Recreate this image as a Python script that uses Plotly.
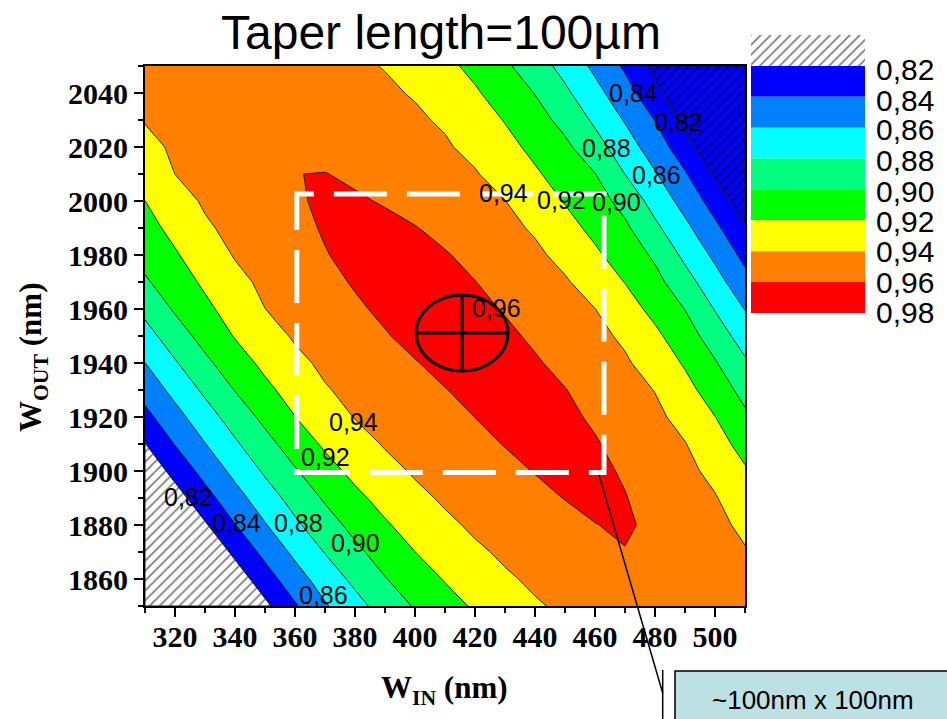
import numpy as np
import plotly.graph_objects as go

W, H = 947, 719

# ---------------- data ----------------
w_in = list(range(310, 511, 10))        # W_IN (nm)
w_out = list(range(1850, 2051, 10))     # W_OUT (nm)

# efficiency, one row per W_OUT (ascending), one column per W_IN
eff = [
    [0.727, 0.749, 0.772, 0.7936, 0.8156, 0.8378, 0.858, 0.8735, 0.8881, 0.9017, 0.9125, 0.9224, 0.9305, 0.9385, 0.9425, 0.9455, 0.9485, 0.9516, 0.9532, 0.9493, 0.9453],
    [0.743, 0.765, 0.787, 0.809, 0.831, 0.8517, 0.8691, 0.8845, 0.8991, 0.9104, 0.9212, 0.9296, 0.938, 0.9425, 0.9458, 0.9491, 0.9524, 0.9557, 0.9521, 0.9478, 0.9435],
    [0.758, 0.780, 0.802, 0.8243, 0.8454, 0.8642, 0.8808, 0.8958, 0.9083, 0.9199, 0.9286, 0.9374, 0.9425, 0.946, 0.9495, 0.9531, 0.9593, 0.9552, 0.9505, 0.9459, 0.9412],
    [0.774, 0.796, 0.8178, 0.8394, 0.8587, 0.8765, 0.8919, 0.9056, 0.9179, 0.9275, 0.9366, 0.9427, 0.9469, 0.9511, 0.9553, 0.9596, 0.9625, 0.9559, 0.9501, 0.9442, 0.9365],
    [0.7906, 0.8116, 0.8328, 0.8526, 0.8708, 0.8873, 0.9023, 0.9156, 0.9263, 0.9357, 0.9424, 0.947, 0.9515, 0.956, 0.9604, 0.964, 0.9606, 0.9544, 0.9478, 0.9412, 0.9294],
    [0.8053, 0.8263, 0.8466, 0.8652, 0.8827, 0.8983, 0.913, 0.925, 0.9345, 0.942, 0.9467, 0.9513, 0.956, 0.9606, 0.9648, 0.9632, 0.9585, 0.9515, 0.9445, 0.9353, 0.9221],
    [0.8195, 0.8407, 0.8594, 0.8773, 0.8937, 0.9092, 0.9229, 0.933, 0.9414, 0.9462, 0.951, 0.9558, 0.9606, 0.9653, 0.966, 0.9613, 0.9548, 0.9478, 0.9407, 0.9279, 0.9131],
    [0.8343, 0.8533, 0.8715, 0.8888, 0.9048, 0.9198, 0.9308, 0.9407, 0.9456, 0.9504, 0.9553, 0.9601, 0.965, 0.968, 0.9633, 0.9578, 0.9509, 0.9439, 0.934, 0.9203, 0.9035],
    [0.8475, 0.8658, 0.8837, 0.9006, 0.9155, 0.9277, 0.9387, 0.9444, 0.9495, 0.9545, 0.9595, 0.9645, 0.9695, 0.9655, 0.9605, 0.9537, 0.9467, 0.9395, 0.926, 0.9109, 0.8938],
    [0.8598, 0.8782, 0.8958, 0.9112, 0.9245, 0.9357, 0.9433, 0.9486, 0.9539, 0.9592, 0.9644, 0.9697, 0.967, 0.9617, 0.9556, 0.949, 0.9424, 0.9316, 0.918, 0.9016, 0.8829],
    [0.8725, 0.8906, 0.907, 0.9211, 0.9326, 0.942, 0.9476, 0.9532, 0.9589, 0.9644, 0.9698, 0.9687, 0.9632, 0.9574, 0.9511, 0.9448, 0.9369, 0.924, 0.9088, 0.8908, 0.8709],
    [0.8849, 0.9023, 0.9158, 0.9281, 0.9399, 0.9458, 0.9517, 0.9576, 0.963, 0.968, 0.969, 0.9641, 0.9589, 0.9527, 0.9465, 0.9402, 0.9281, 0.9147, 0.8996, 0.879, 0.8593],
    [0.8975, 0.9108, 0.9232, 0.9351, 0.9436, 0.9497, 0.9557, 0.9614, 0.9659, 0.9695, 0.9649, 0.9603, 0.9542, 0.948, 0.9419, 0.9316, 0.9195, 0.9058, 0.8877, 0.8676, 0.8466],
    [0.9064, 0.9181, 0.9302, 0.9412, 0.9472, 0.9533, 0.9593, 0.9638, 0.9681, 0.9656, 0.9612, 0.9556, 0.9495, 0.9434, 0.9348, 0.9232, 0.9109, 0.8969, 0.8756, 0.856, 0.8346],
    [0.9136, 0.9252, 0.9376, 0.9446, 0.9504, 0.9561, 0.9613, 0.9654, 0.9647, 0.9607, 0.9555, 0.95, 0.9445, 0.9379, 0.9266, 0.9152, 0.9035, 0.8841, 0.8645, 0.8442, 0.8222],
    [0.9199, 0.9326, 0.9422, 0.9476, 0.9529, 0.9583, 0.9623, 0.9623, 0.9585, 0.954, 0.9494, 0.9448, 0.9403, 0.9298, 0.9189, 0.908, 0.8937, 0.8723, 0.8531, 0.8317, 0.8087],
    [0.9274, 0.9401, 0.945, 0.9499, 0.9548, 0.9598, 0.9605, 0.9568, 0.9529, 0.949, 0.9451, 0.9412, 0.9329, 0.9225, 0.9116, 0.9004, 0.8798, 0.8615, 0.8418, 0.8183, 0.7945],
    [0.9352, 0.9425, 0.9464, 0.9503, 0.9543, 0.9561, 0.9532, 0.9503, 0.9474, 0.9445, 0.9417, 0.9357, 0.9258, 0.9153, 0.904, 0.8877, 0.8692, 0.8503, 0.8284, 0.8037, 0.779],
    [0.9409, 0.9446, 0.9483, 0.952, 0.9545, 0.952, 0.9495, 0.947, 0.9445, 0.942, 0.9382, 0.9287, 0.9191, 0.9076, 0.8941, 0.8767, 0.8585, 0.8395, 0.8138, 0.7882, 0.7626],
    [0.9428, 0.9462, 0.9496, 0.953, 0.9508, 0.9486, 0.9464, 0.9442, 0.9419, 0.939, 0.9306, 0.9222, 0.9113, 0.8994, 0.8836, 0.8661, 0.8478, 0.8262, 0.8024, 0.7786, 0.7548],
    [0.9445, 0.9476, 0.9507, 0.9493, 0.9474, 0.9455, 0.9437, 0.9418, 0.9395, 0.932, 0.9245, 0.9152, 0.9032, 0.8893, 0.8736, 0.8557, 0.8371, 0.8146, 0.7921, 0.7696, 0.7472],
]

levels = [0.82, 0.84, 0.86, 0.88, 0.90, 0.92, 0.94, 0.96, 0.98]
level_labels = ["0,82", "0,84", "0,86", "0,88", "0,90", "0,92", "0,94", "0,96", "0,98"]
band_colors = ["#0000FF", "#0080FF", "#00FFFF", "#00FF80", "#00FF00", "#FFFF00", "#FF8000", "#FF0000"]

# contour labels (text, W_IN, W_OUT)
contour_labels = [
    ("0,84", 472.8, 2039.9), ("0,82", 487.8, 2029.4), ("0,88", 463.9, 2019.5),
    ("0,86", 480.6, 2009.6), ("0,94", 429.4, 2002.9), ("0,92", 448.9, 2000.4),
    ("0,90", 467.2, 1999.7), ("0,96", 427.2, 1960.3), ("0,94", 379.4, 1918.3),
    ("0,92", 370.0, 1905.3), ("0,82", 324.4, 1890.5), ("0,84", 340.6, 1880.6),
    ("0,88", 361.1, 1880.9), ("0,90", 380.0, 1873.2), ("0,86", 369.4, 1854.1),
]

optimum = (415.7, 1951.1)            # marked optimum point
optimum_r = (15.3, 14.1)
window = (360.6, 463.0, 1899.4, 2002.6)   # ~100nm x 100nm tolerance window

title_text = "Taper length=100µm"
callout_text = "~100nm x 100nm"

# ---------------- helpers ----------------
def pxx(v):
    return v / W

def pxy(v):
    return 1 - v / H

Z = np.array(eff, dtype=float)
X = np.array(w_in, dtype=float)
Y = np.array(w_out, dtype=float)


def level_crossings(lvl):
    pts = []
    ny, nx = Z.shape
    for j in range(ny):
        for i in range(nx - 1):
            a, b = Z[j, i], Z[j, i + 1]
            if (a - lvl) * (b - lvl) < 0:
                t = (lvl - a) / (b - a)
                pts.append((X[i] + t * (X[i + 1] - X[i]), Y[j]))
    for i in range(nx):
        for j in range(ny - 1):
            a, b = Z[j, i], Z[j + 1, i]
            if (a - lvl) * (b - lvl) < 0:
                t = (lvl - a) / (b - a)
                pts.append((X[i], Y[j] + t * (Y[j + 1] - Y[j])))
    return pts


pts = level_crossings(levels[0])
mid = (X[0] + X[-1]) / 2
ll = sorted([p for p in pts if p[0] < mid], key=lambda p: (p[0], -p[1]))
ur = sorted([p for p in pts if p[0] >= mid], key=lambda p: (p[0], -p[1]))
ll_poly = [(X[0], Y[0])] + ll + [(X[0], Y[0])]
ur_poly = [(X[-1], Y[-1])] + ur + [(X[-1], Y[-1])]

# discrete colour scale: s = k/8 -> band k (k=0 below first level)
cs_colors = ["#FFFFFF"] + band_colors
colorscale = [[k / 8, c] for k, c in enumerate(cs_colors)]

fig = go.Figure()

fig.add_trace(go.Contour(
    x=w_in, y=w_out, z=eff,
    contours=dict(start=levels[0], end=levels[-2], size=0.02, coloring="fill", showlines=True),
    line=dict(color="#102010", width=1, smoothing=0),
    colorscale=colorscale, showscale=False, hoverinfo="skip",
))

hatch = dict(shape="/", size=7, solidity=0.25, fgcolor="black")
for poly, bg in [(ll_poly, "#FFFFFF"), (ur_poly, "#0000FF")]:
    fig.add_trace(go.Scatter(
        x=[p[0] for p in poly], y=[p[1] for p in poly], mode="lines",
        fill="toself", fillcolor=bg, fillpattern=dict(bgcolor=bg, **hatch),
        line=dict(color="#102010", width=1), hoverinfo="skip", showlegend=False,
    ))

# legend hatched box
fig.add_trace(go.Scatter(
    x=[0, 1, 1, 0, 0], y=[0, 0, 1, 1, 0], xaxis="x2", yaxis="y2", mode="lines",
    fill="toself", fillcolor="white", fillpattern=dict(bgcolor="white", **hatch),
    line=dict(width=0), hoverinfo="skip", showlegend=False,
))

shapes = []
for k, c in enumerate(band_colors):
    shapes.append(dict(type="rect", xref="x2", yref="y2", x0=0, x1=1, y0=k + 1, y1=k + 2,
                       fillcolor=c, line=dict(width=0), layer="above"))

x0w, x1w, y0w, y1w = window
shapes.append(dict(type="rect", xref="x", yref="y", x0=x0w, x1=x1w, y0=y0w, y1=y1w,
                   line=dict(color="white", width=5, dash="53px,20px"), fillcolor="rgba(0,0,0,0)"))
cx, cy = optimum
rx, ry = optimum_r
shapes.append(dict(type="circle", xref="x", yref="y", x0=cx - rx, x1=cx + rx, y0=cy - ry, y1=cy + ry,
                   line=dict(color="black", width=3)))
shapes.append(dict(type="line", xref="x", yref="y", x0=cx - rx, x1=cx + rx, y0=cy, y1=cy,
                   line=dict(color="black", width=3)))
shapes.append(dict(type="line", xref="x", yref="y", x0=cx, x1=cx, y0=cy - ry, y1=cy + ry,
                   line=dict(color="black", width=3)))

# callout
shapes.append(dict(type="line", xref="paper", yref="paper", x0=pxx(599), y0=pxy(475), x1=pxx(662.7), y1=pxy(693),
                   line=dict(color="black", width=1.5)))
shapes.append(dict(type="line", xref="paper", yref="paper", x0=pxx(662.7), y0=pxy(670), x1=pxx(662.7), y1=pxy(730),
                   line=dict(color="black", width=1.5)))
shapes.append(dict(type="rect", xref="paper", yref="paper", x0=pxx(675), y0=pxy(671), x1=pxx(965), y1=pxy(740),
                   fillcolor="#BCE0E4", line=dict(color="black", width=1.5)))

annotations = []
for txt, ax_, ay_ in contour_labels:
    annotations.append(dict(text=txt, x=ax_, y=ay_, xref="x", yref="y", showarrow=False,
                            xanchor="center", yanchor="middle",
                            font=dict(family="Liberation Sans", size=25, color="black")))
legend_label_y = [69, 100, 130, 160.7, 191.7, 221.7, 251.7, 282.3, 312.7]
for txt, ly in zip(level_labels, legend_label_y):
    annotations.append(dict(text=txt, x=pxx(874), y=pxy(ly), xref="paper", yref="paper", showarrow=False,
                            xanchor="left", yanchor="middle",
                            font=dict(family="Liberation Sans", size=30, color="black")))
annotations.append(dict(text=title_text, x=pxx(441), y=pxy(32), xref="paper", yref="paper", showarrow=False,
                        xanchor="center", yanchor="middle",
                        font=dict(family="Liberation Sans", size=48, color="black")))
annotations.append(dict(text="<b>W<sub>OUT</sub> (nm)</b>", x=pxx(33), y=pxy(358), xref="paper", yref="paper",
                        showarrow=False, textangle=-90, xanchor="center", yanchor="middle",
                        font=dict(family="Liberation Serif", size=31, color="black")))
annotations.append(dict(text="<b>W<sub>IN</sub> (nm)</b>", x=pxx(444), y=pxy(690), xref="paper", yref="paper",
                        showarrow=False, xanchor="center", yanchor="middle",
                        font=dict(family="Liberation Serif", size=31, color="black")))
annotations.append(dict(text=callout_text, x=pxx(813), y=pxy(700), xref="paper", yref="paper", showarrow=False,
                        xanchor="center", yanchor="middle",
                        font=dict(family="Liberation Sans", size=26, color="black")))

axis_common = dict(showgrid=False, zeroline=False, showline=True, linecolor="black", linewidth=2,
                   mirror=True, ticks="outside", ticklen=9, tickwidth=2, tickcolor="black",
                   tickfont=dict(family="Liberation Serif", size=30, color="black", weight="bold"))

fig.update_layout(
    width=W, height=H, margin=dict(l=0, r=0, t=0, b=0),
    paper_bgcolor="white", plot_bgcolor="white", showlegend=False,
    xaxis=dict(domain=[pxx(145), pxx(745)], range=[310, 510], tick0=320, dtick=20,
               minor=dict(ticks="outside", ticklen=5, tickwidth=2, tickcolor="black", dtick=10, tick0=310),
               automargin=False, ticklabelstandoff=-6, **axis_common),
    yaxis=dict(domain=[pxy(606), pxy(66)], range=[1850, 2050], tick0=1860, dtick=20,
               minor=dict(ticks="outside", ticklen=5, tickwidth=2, tickcolor="black", dtick=10, tick0=1850),
               automargin=False, **axis_common),
    xaxis2=dict(domain=[pxx(751), pxx(865)], range=[0, 1], visible=False, anchor="y2", fixedrange=True),
    yaxis2=dict(domain=[pxy(313), pxy(35)], range=[9, 0], visible=False, anchor="x2", fixedrange=True),
    shapes=shapes, annotations=annotations,
)

fig.write_html("out.html", config={"displayModeBar": False},
               post_script="document.body.style.margin='0px';")
